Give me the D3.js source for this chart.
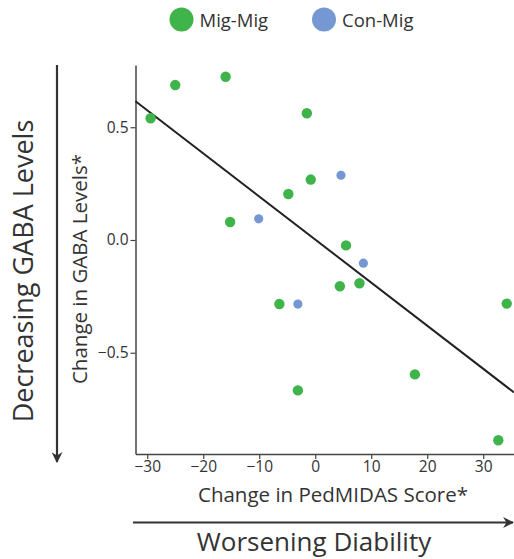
<!DOCTYPE html>
<html>
<head>
<meta charset="utf-8">
<script src="https://cdn.jsdelivr.net/npm/d3@7"></script>
<style>
  body { margin: 0; background: #fff; }
  svg text { font-family: "Open Sans", "Noto Sans", sans-serif; fill: #333; }
</style>
</head>
<body>
<div id="chart"></div>
<script>
// change in PedMIDAS score (x) and change in GABA levels (y)
var migMigX = [-29.4, -25.0, -16.0, -1.5, -0.8, -4.8, -15.2, 5.5, 4.4, 7.9, 34.2, -6.4, -3.1, 17.8, 32.7];
var migMigY = [0.54, 0.687, 0.724, 0.562, 0.268, 0.204, 0.08, -0.024, -0.205, -0.192, -0.282, -0.284, -0.667, -0.596, -0.888];
var conMigX = [-10.1, 4.6, 8.6, -3.1];
var conMigY = [0.094, 0.287, -0.103, -0.284];

var xTicks = [-30, -20, -10, 0, 10, 20, 30];
var yTicks = [-0.5, 0.0, 0.5];

// regression line
var fitSlope = -0.0191;
var fitIntercept = 0.002;

var width = 514, height = 559;
var green = '#3fb44b', blue = '#7598d3';

var svg = d3.select('#chart')
    .append('svg')
        .attr('width', width)
        .attr('height', height);

var x = d3.scaleLinear().domain([-32.1, 35.5]).range([135.5, 514]);
var y = d3.scaleLinear().domain([-0.949, 0.776]).range([454, 65]);

// axes
var xAxis = svg.append('g')
    .attr('transform', 'translate(0,454)')
    .call(d3.axisBottom(x).tickValues(xTicks).tickSize(5).tickSizeOuter(0).tickFormat(d3.format('d')));
var yAxis = svg.append('g')
    .attr('transform', 'translate(135.5,0)')
    .call(d3.axisLeft(y).tickValues(yTicks).tickSize(5).tickSizeOuter(0).tickFormat(d3.format('.1f')));

[xAxis, yAxis].forEach(function(a) {
    a.select('.domain').attr('stroke', '#444').attr('stroke-width', 1.5);
    a.selectAll('.tick line').attr('stroke', '#444').attr('stroke-width', 1.2);
    a.selectAll('.tick text')
        .style('font-size', '15.5px')
        .style('font-family', '"Open Sans", sans-serif')
        .attr('fill', '#444');
});
xAxis.selectAll('.tick text').attr('y', 7);
yAxis.selectAll('.tick text').attr('x', -7);

// fit line
var xd = x.domain();
svg.append('line')
    .attr('x1', x(xd[0]))
    .attr('y1', y(fitIntercept + fitSlope * xd[0]))
    .attr('x2', x(xd[1]))
    .attr('y2', y(fitIntercept + fitSlope * xd[1]))
    .attr('stroke', '#222')
    .style('stroke-width', 2);

// points
svg.selectAll('circle.mig')
    .data(migMigX)
    .enter().append('circle')
        .attr('class', 'mig')
        .attr('cx', function(d) { return x(d); })
        .attr('cy', function(d, i) { return y(migMigY[i]); })
        .attr('r', 5.2)
        .style('fill', green);

svg.selectAll('circle.con')
    .data(conMigX)
    .enter().append('circle')
        .attr('class', 'con')
        .attr('cx', function(d) { return x(d); })
        .attr('cy', function(d, i) { return y(conMigY[i]); })
        .attr('r', 4.6)
        .style('fill', blue);

// legend
var legend = [['Mig-Mig', green, 181.5], ['Con-Mig', blue, 324]];
legend.forEach(function(l) {
    svg.append('circle')
        .attr('cx', l[2]).attr('cy', 19.5).attr('r', 12)
        .style('fill', l[1]);
    svg.append('text')
        .attr('x', l[2] + 18).attr('y', 26.5)
        .style('font-size', '18.5px')
        .text(l[0]);
});

// axis titles
svg.append('text')
    .attr('transform', 'translate(87,269) rotate(-90)')
    .attr('text-anchor', 'middle')
    .style('font-size', '20.5px')
    .text('Change in GABA Levels*');

svg.append('text')
    .attr('x', 333).attr('y', 502)
    .attr('text-anchor', 'middle')
    .style('font-size', '20.5px')
    .text('Change in PedMIDAS Score*');

svg.append('text')
    .attr('transform', 'translate(33,271) rotate(-90)')
    .attr('text-anchor', 'middle')
    .style('font-size', '27px')
    .text('Decreasing GABA Levels');

svg.append('text')
    .attr('x', 314).attr('y', 551)
    .attr('text-anchor', 'middle')
    .style('font-size', '26px')
    .text('Worsening Diability');

// arrows
var defs = svg.append('defs');
defs.append('marker')
    .attr('id', 'head')
    .attr('viewBox', '0 0 10 10')
    .attr('refX', 9).attr('refY', 5)
    .attr('markerWidth', 5).attr('markerHeight', 5)
    .attr('markerUnits', 'strokeWidth')
    .attr('orient', 'auto')
  .append('path')
    .attr('d', 'M0,0 L10,5 L0,10 L3,5 Z')
    .style('fill', '#333');

svg.append('line')
    .attr('x1', 57).attr('y1', 65).attr('x2', 57).attr('y2', 462)
    .attr('stroke', '#333').style('stroke-width', 2.2)
    .attr('marker-end', 'url(#head)');

svg.append('line')
    .attr('x1', 133).attr('y1', 522.5).attr('x2', 513).attr('y2', 522.5)
    .attr('stroke', '#333').style('stroke-width', 2.2)
    .attr('marker-end', 'url(#head)');
</script>
</body>
</html>
